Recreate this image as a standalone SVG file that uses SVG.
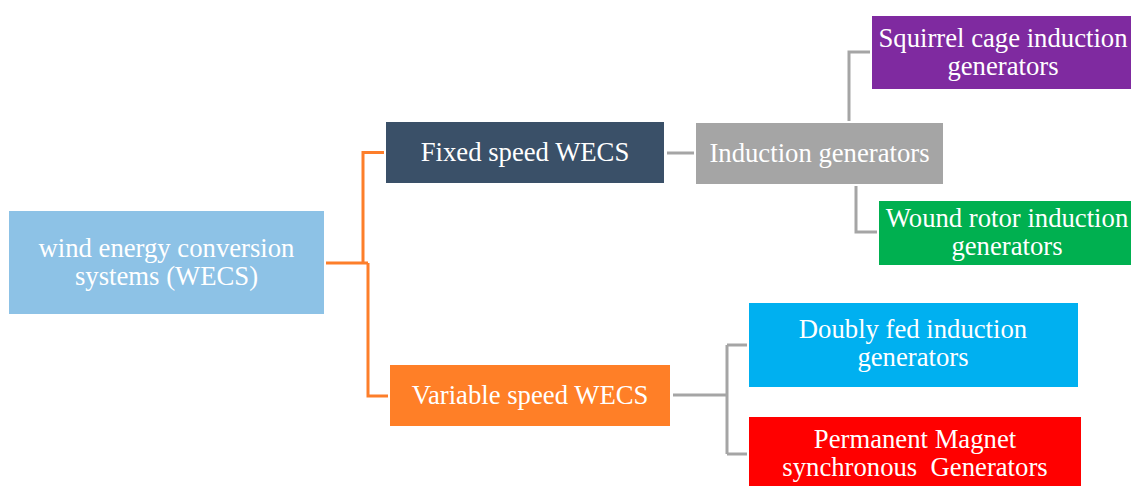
<svg xmlns="http://www.w3.org/2000/svg" width="1131" height="486" viewBox="0 0 1131 486">
  <style>
    .lbl { font-family: "Liberation Serif", "Times New Roman", serif; font-size: 26.7px; fill: #ffffff; text-anchor: middle; white-space: pre; }
    .link-o { fill: none; stroke: #FD7E2A; stroke-width: 3; }
    .link-g { fill: none; stroke: #A5A5A5; stroke-width: 3; }
  </style>
  <rect width="1131" height="486" fill="#ffffff"/>

  <!-- connectors -->
  <g id="connectors">
    <path class="link-o" d="M326,263 H368 M363,263 V152.5 H384 M368,263 V396 H388"/>
    <path class="link-g" d="M667,153 H694"/>
    <path class="link-g" d="M849,121 V52 H870"/>
    <path class="link-g" d="M856,186 V232 H877"/>
    <path class="link-g" d="M673,395 H727 M727,345 V454 M727,345 H747 M727,454 H747"/>
  </g>

  <g id="root">
    <rect x="9" y="211" width="315" height="103" fill="#8DC2E6"/>
    <text class="lbl" x="166.5" y="257">wind energy conversion</text>
    <text class="lbl" x="166.5" y="285">systems (WECS)</text>
  </g>

  <g id="fixed">
    <rect x="386" y="122" width="278" height="61" fill="#3A5068"/>
    <text class="lbl" x="525" y="161">Fixed speed WECS</text>
  </g>

  <g id="variable">
    <rect x="390" y="365" width="280" height="61" fill="#FF7F27"/>
    <text class="lbl" x="530" y="404">Variable speed WECS</text>
  </g>

  <g id="induction">
    <rect x="696" y="123" width="247" height="61" fill="#A5A5A5"/>
    <text class="lbl" x="819.5" y="162">Induction generators</text>
  </g>

  <g id="squirrel">
    <rect x="872" y="16" width="259" height="73" fill="#7F2AA0"/>
    <text class="lbl" x="1003" y="47">Squirrel cage induction</text>
    <text class="lbl" x="1003" y="75">generators</text>
  </g>

  <g id="wound">
    <rect x="879" y="201" width="252" height="64" fill="#00B050"/>
    <text class="lbl" x="1007" y="227">Wound rotor induction</text>
    <text class="lbl" x="1007" y="255">generators</text>
  </g>

  <g id="doubly">
    <rect x="749" y="303" width="329" height="84" fill="#00B0F0"/>
    <text class="lbl" x="913" y="338">Doubly fed induction</text>
    <text class="lbl" x="913" y="366">generators</text>
  </g>

  <g id="permanent">
    <rect x="749" y="417" width="332" height="69" fill="#FF0000"/>
    <text class="lbl" x="915" y="448">Permanent Magnet</text>
    <text class="lbl" x="915" y="476">synchronous  Generators</text>
  </g>
</svg>
